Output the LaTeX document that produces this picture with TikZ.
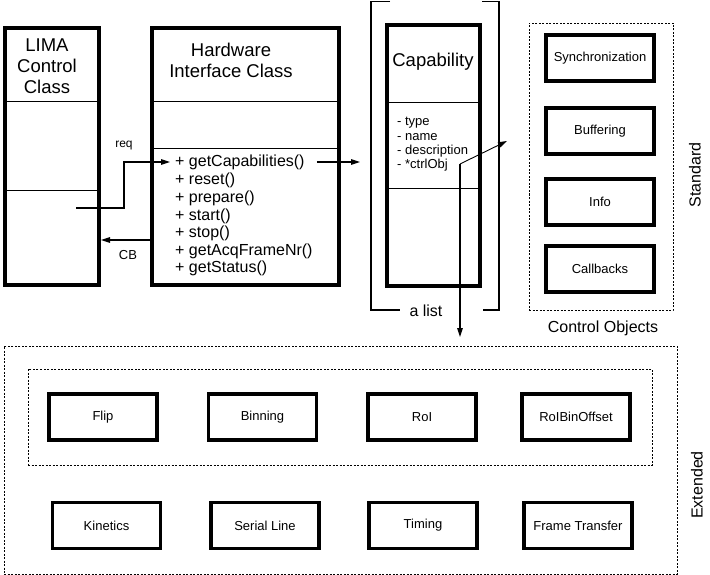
\documentclass[tikz,border=0pt]{standalone}
\usepackage{fontspec}
\setmainfont{Liberation Sans}
\usetikzlibrary{arrows.meta}

\begin{document}
\begin{tikzpicture}[x=1pt,y=1pt,>={Triangle[length=9pt,width=5.5pt]},
    class box/.style={draw,line width=4pt,inner sep=0pt},
    title/.style={align=center,font=\fontsize{18.5}{21}\selectfont},
    method/.style={anchor=west,inner sep=0pt,font=\fontsize{16}{18}\selectfont},
    attr/.style={anchor=west,inner sep=0pt,font=\fontsize{13}{14}\selectfont},
    ctrl box/.style={draw,line width=3.5pt,minimum width=108pt,minimum height=46pt,
      font=\fontsize{13}{15}\selectfont},
    group/.style={draw,line width=0.8pt,dash pattern=on 2pt off 1.5pt,inner sep=0pt},
    conn/.style={->,line width=1.2pt},
    caption/.style={font=\fontsize{16}{18}\selectfont}]

\useasboundingbox (0,0) rectangle (710,-575);

% the three classes
\node[class box, minimum width=94pt, minimum height=257pt] (lima) at (52,-156.5) {};
\node[class box, minimum width=187pt, minimum height=257pt] (hw) at (245.5,-156.5) {};
\node[class box, minimum width=93pt, minimum height=261pt] (cap) at (433.5,-155.5) {};

\draw[line width=1pt] (lima.west |- 0,-102) -- (lima.east |- 0,-102);
\draw[line width=1pt] (lima.west |- 0,-191) -- (lima.east |- 0,-191);
\draw[line width=1pt] (hw.west |- 0,-102) -- (hw.east |- 0,-102);
\draw[line width=1pt] (hw.west |- 0,-149) -- (hw.east |- 0,-149);
\draw[line width=1pt] (cap.west |- 0,-103) -- (cap.east |- 0,-103);
\draw[line width=1pt] (cap.west |- 0,-189) -- (cap.east |- 0,-189);

\node[title] (limat) at (47,-66) {LIMA\\Control\\Class};
\node[title] (hwt) at (231,-60) {Hardware\\Interface Class};
\node[title] (capt) at (433,-62) {Capability};

% methods
\node[method] (m1) at (175,-162) {+ getCapabilities()};
\node[method] (m2) at (175,-180) {+ reset()};
\node[method] (m3) at (175,-198) {+ prepare()};
\node[method] (m4) at (175,-216) {+ start()};
\node[method] (m5) at (175,-233) {+ stop()};
\node[method] (m6) at (175,-251) {+ getAcqFrameNr()};
\node[method] (m7) at (175,-268.5) {+ getStatus()};

% attributes
\node[attr] (a1) at (397,-123) {- type};
\node[attr] (a2) at (397,-137) {- name};
\node[attr] (a3) at (397,-151.5) {- description};
\node[attr] (a4) at (397,-165.5) {- *ctrlObj};

% calls between the classes
\coordinate (reqstart) at (76,-208);
\coordinate (captip) at (360,-162);
\draw[conn,shorten >=5pt] (reqstart) -- (124,-208) |- (m1.west);
\node[font=\fontsize{12}{14}\selectfont] (req) at (124,-146) {req};
\draw[conn] (hw.west |- 0,-240) -- (lima.east |- 0,-240);
\node[font=\fontsize{13}{15}\selectfont] (cb) at (128,-255) {CB};
\draw[conn,shorten <=12pt] (m1.east) -- (captip);

% the list bracket
\draw[line width=1.2pt] (390,-1.5) -- (371,-1.5) -- (371,-310) -- (400,-310);
\draw[line width=1.2pt] (482,-1.5) -- (499,-1.5) -- (499,-310) -- (483,-310);
\node[caption] (alist) at (426,-311) {a list};

\coordinate (ctrl) at (460,-164);
\coordinate (ctrltip) at (507,-141);
\coordinate (down) at (460,-337);
\draw[->,line width=0.9pt] (ctrl) -- (ctrltip);
\draw[conn] (ctrl) -- (down);

% standard control objects
\node[group, minimum width=144pt, minimum height=287pt] (std) at (601,-166.5) {};
\node[ctrl box] (sync) at (600,-58) {Synchronization};
\node[ctrl box] (buf) at (600,-131) {Buffering};
\node[ctrl box] (info) at (600,-202) {Info};
\node[ctrl box] (cback) at (600,-269) {Callbacks};
\node[caption] (ctrlobj) at (603,-328) {Control Objects};
\node[caption, rotate=90] (stdlab) at (695,-175) {Standard};

% extended control objects
\node[group, minimum width=673pt, minimum height=228pt] (ext) at (340.5,-460) {};
\node[group, minimum width=624pt, minimum height=96pt] (img) at (340,-417) {};
\node[ctrl box] (flip) at (103,-417) {Flip};
\node[ctrl box] (bin) at (262.5,-417) {Binning};
\node[ctrl box] (roi) at (422,-417) {RoI};
\node[ctrl box] (roibin) at (576,-417) {RoIBinOffset};
\node[ctrl box] (kin) at (106.5,-525.5) {Kinetics};
\node[ctrl box] (serial) at (265,-525.5) {Serial Line};
\node[ctrl box] (timing) at (423,-525.5) {Timing};
\node[ctrl box] (ftrans) at (578,-525.5) {Frame Transfer};
\node[caption, rotate=90] (extlab) at (697,-485) {Extended};
\end{tikzpicture}
\end{document}
